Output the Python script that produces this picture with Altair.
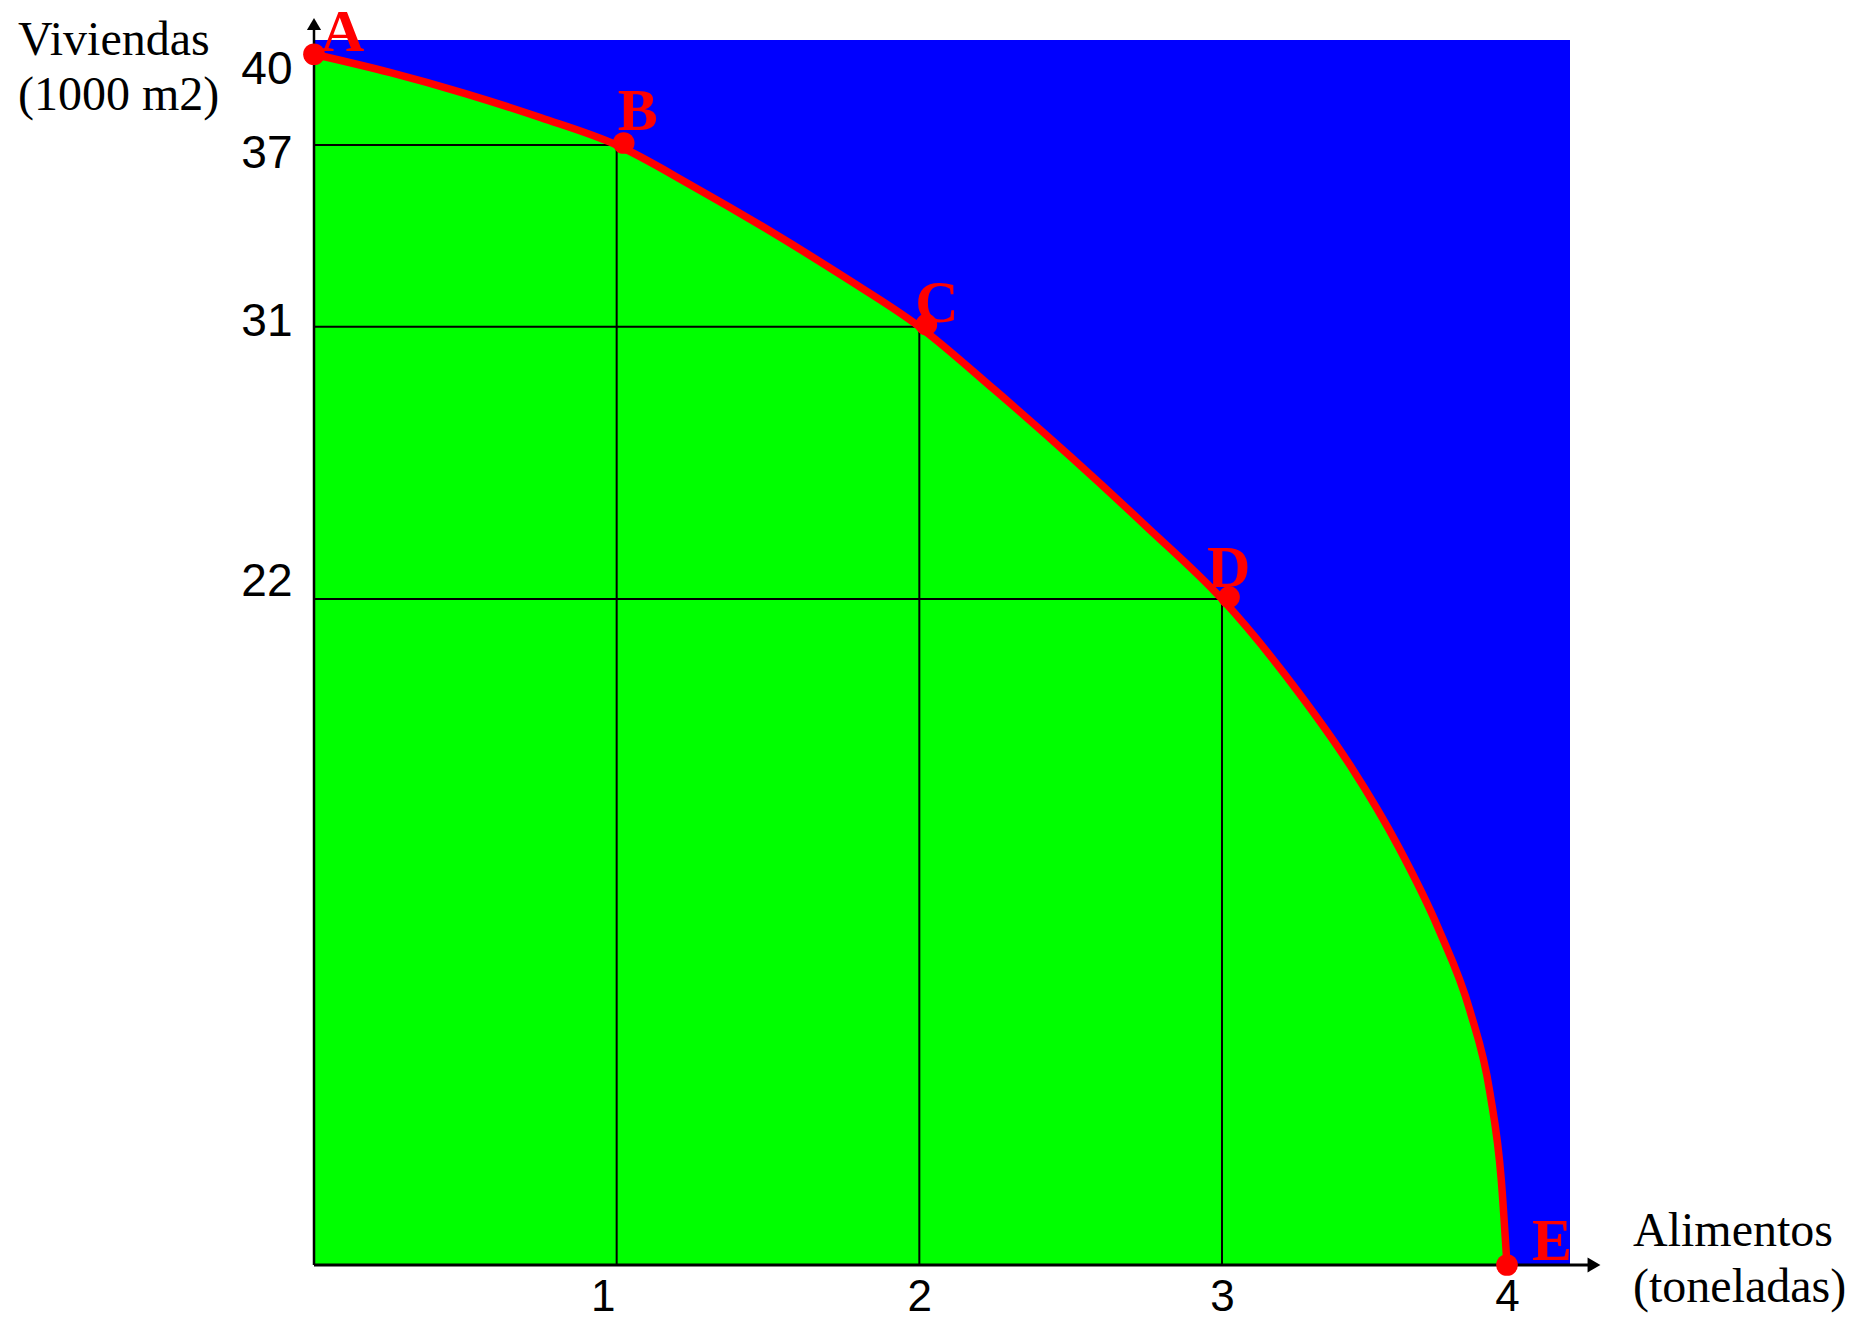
import altair as alt
import pandas as pd

# Points of the production possibilities frontier
point_names = ["A", "B", "C", "D", "E"]
food = [0, 1, 2, 3, 4]
housing = [40, 37, 31, 22, 0]

# Frontier curve
curve_food = [0, 0.25, 0.5, 0.75, 1, 1.25, 1.5, 1.75, 2, 2.25, 2.5, 2.75, 3,
              3.27, 3.45, 3.62, 3.76, 3.87, 3.94, 3.98, 4.0]
curve_housing = [40, 39.4, 38.7, 37.9, 37.0, 35.65, 34.2, 32.65, 31.0, 28.9, 26.7, 24.4, 22.0,
                 18.9, 16.5, 13.8, 11.1, 8.4, 5.7, 2.8, 0]

x_ticks = [1, 2, 3, 4]
y_ticks = [22, 31, 37, 40]

y_title = "Viviendas\n(1000 m2)"
x_title = "Alimentos\n(toneladas)"

points = pd.DataFrame({"name": point_names, "food": food, "housing": housing})
points["zero"] = 0
guides = points[(points["food"] > 0) & (points["housing"] > 0)]
curve = pd.DataFrame({"food": curve_food, "housing": curve_housing})

W, H = 1256, 1225
xs = alt.Scale(domain=[0, 3, 4, 4.22], range=[0, 908, 1193, W], nice=False, zero=False)
ys = alt.Scale(domain=[0, 40.47], nice=False, zero=False)

x_axis = alt.Axis(values=x_ticks, domain=False, ticks=False, grid=False, title=None,
                  labelFont="Liberation Sans", labelFontSize=44, labelColor="black",
                  labelPadding=10, labelFlush=False, labelOverlap=False,
                  labelOffset={"condition": [{"test": "datum.value === 1", "value": -14}],
                               "value": 0})
y_axis = alt.Axis(values=y_ticks, domain=False, ticks=False, grid=False, title=None,
                  labelFont="Liberation Sans", labelFontSize=46, labelColor="black",
                  labelPadding=22, labelBaseline="middle", labelOverlap=False,
                  labelOffset={"condition": [{"test": "datum.value === 40", "value": 15},
                                             {"test": "datum.value === 37", "value": 8},
                                             {"test": "datum.value === 31", "value": -5},
                                             {"test": "datum.value === 22", "value": -18}],
                               "value": 0})


def X(field):
    return alt.X(field, type="quantitative", scale=xs, axis=x_axis)


def Y(field):
    return alt.Y(field, type="quantitative", scale=ys, axis=y_axis)


area = alt.Chart(curve).mark_area(color="#00FF00", interpolate="monotone").encode(
    x=X("food"), y=Y("housing"),
)

hguides = alt.Chart(guides).mark_rule(color="black", strokeWidth=2).encode(
    x=X("zero"), x2="food:Q", y=Y("housing"),
)
vguides = alt.Chart(guides).mark_rule(color="black", strokeWidth=2).encode(
    x=X("food"), y=Y("zero"), y2="housing:Q",
)

line = alt.Chart(curve).mark_line(color="#FF0000", strokeWidth=7.5, interpolate="monotone").encode(
    x=X("food"), y=Y("housing"),
)

# Axis lines with arrowheads
axis_src = pd.DataFrame({"k": [0]})
y_axis_line = alt.Chart(axis_src).mark_rule(color="black", strokeWidth=2.5).encode(
    x=alt.value(0), y=alt.value(H), y2=alt.value(-14))
x_axis_line = alt.Chart(axis_src).mark_rule(color="black", strokeWidth=3).encode(
    x=alt.value(0), x2=alt.value(1278), y=alt.value(H))
y_arrow = alt.Chart(axis_src).mark_point(shape="triangle-up", filled=True, color="black",
                                         size=200, opacity=1).encode(
    x=alt.value(0), y=alt.value(-16))
x_arrow = alt.Chart(axis_src).mark_point(shape="triangle-right", filled=True, color="black",
                                         size=220, opacity=1).encode(
    x=alt.value(1280), y=alt.value(H))

# End points sit on the axes; the inner points are drawn a little to the right
dots_end = alt.Chart(points).transform_filter(
    (alt.datum.food == 0) | (alt.datum.housing == 0)
).mark_circle(color="#FF0000", size=470, opacity=1).encode(
    x=X("food"), y=Y("housing"),
)
dots_mid = alt.Chart(points).transform_filter(
    (alt.datum.food > 0) & (alt.datum.housing > 0)
).mark_circle(color="#FF0000", size=470, opacity=1, xOffset=7, yOffset=-2).encode(
    x=X("food"), y=Y("housing"),
)

label_offsets = {"A": (7, -3), "B": (1, -15), "C": (-4, -5), "D": (-15, -12), "E": (25, -5)}
labels = []
for nm, (ddx, ddy) in label_offsets.items():
    labels.append(
        alt.Chart(points).transform_filter(alt.datum.name == nm).mark_text(
            font="Liberation Serif", fontWeight="bold", fontSize=60, color="#FF0000",
            align="left", baseline="alphabetic", dx=ddx, dy=ddy
        ).encode(
            x=X("food"), y=Y("housing"), text="name:N",
        )
    )

ytitle = alt.Chart(pd.DataFrame({"t": [y_title]})).mark_text(
    font="Liberation Serif", fontSize=48, color="black", align="left",
    baseline="alphabetic", lineBreak="\n", lineHeight=55
).encode(x=alt.value(-296), y=alt.value(15), text="t:N")

xtitle = alt.Chart(pd.DataFrame({"t": [x_title]})).mark_text(
    font="Liberation Serif", fontSize=48, color="black", align="left",
    baseline="alphabetic", lineBreak="\n", lineHeight=56
).encode(x=alt.value(1319), y=alt.value(1206), text="t:N")

chart = alt.layer(
    area, hguides, vguides, line, y_axis_line, x_axis_line, y_arrow, x_arrow,
    dots_end, dots_mid, *labels, ytitle, xtitle
).properties(
    width=W, height=H,
    autosize=alt.AutoSizeParams(type="none"),
    padding={"left": 306, "top": 32, "right": 280, "bottom": 55},
    background="white",
).configure_view(fill="#0000FF", strokeWidth=0)

chart.save("out.html", embed_options={"renderer": "svg", "actions": False})
